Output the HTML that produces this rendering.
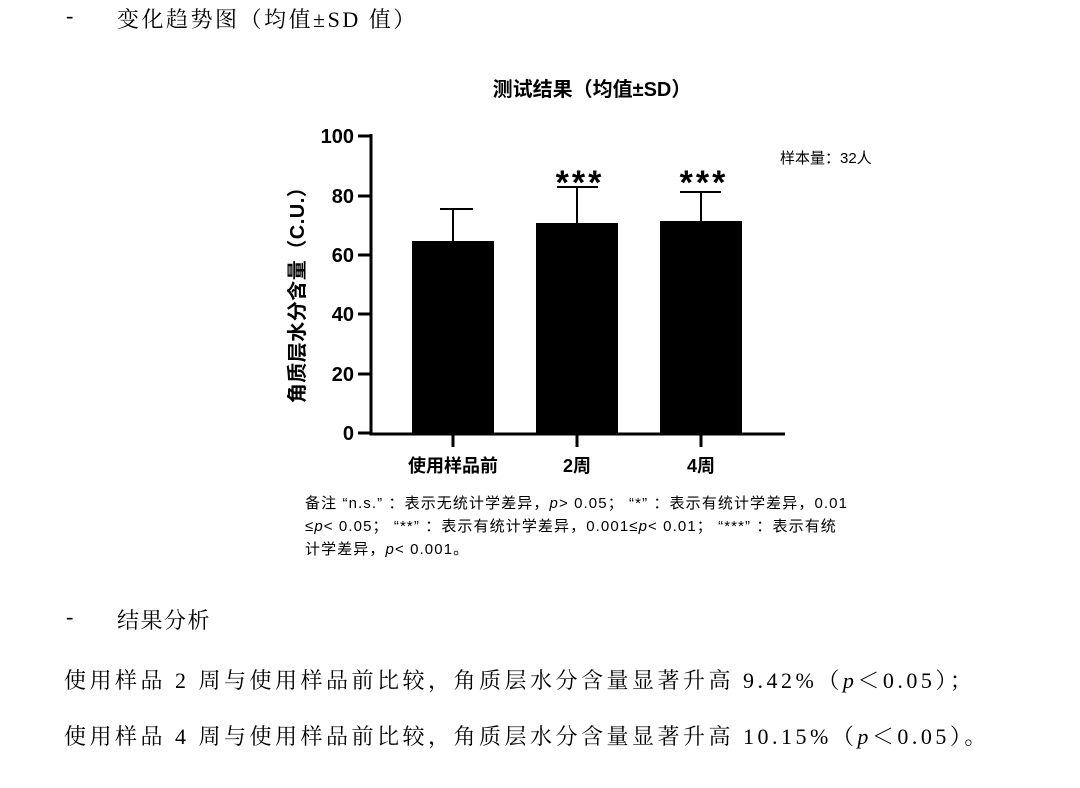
<!DOCTYPE html>
<html><head><meta charset="utf-8"><style>
body{margin:0;background:#fff;width:1080px;height:788px;overflow:hidden;position:relative;font-family:"Liberation Serif","Noto Serif CJK SC",serif;}
.t{position:absolute;white-space:nowrap;color:#000}
.s{font-family:"Liberation Sans","Noto Sans CJK SC",sans-serif}
.b{font-size:22px;letter-spacing:1.5px}
.c{font-family:"Noto Serif CJK SC",serif}
</style></head><body>
<div class="t b" style="left:66px;top:3px">-</div>
<div class="t b" style="left:117px;top:3px;letter-spacing:2.5px">变化趋势图<span class="c">（</span>均值±SD 值<span class="c">）</span></div>
<svg width="1080" height="788" style="position:absolute;left:0;top:0" font-family="Liberation Sans, Noto Sans CJK SC, sans-serif">
<text x="592" y="96" font-size="20" font-weight="bold" text-anchor="middle">测试结果（均值±SD）</text>
<text x="780" y="163" font-size="15">样本量：32人</text>
<g fill="#000">
<rect x="412" y="241" width="82" height="192"/>
<rect x="536" y="223" width="82" height="210"/>
<rect x="660" y="221" width="82" height="212"/>
</g>
<g stroke="#000" stroke-width="2" fill="none">
<path d="M453 241V209M440 209H473M577 223V187M557 187H598M701 221V192M680 192H721"/>
</g>
<g stroke="#000" stroke-width="3" fill="none">
<path d="M371 134V434H785"/>
<path d="M358 136H371M358 196H371M358 255H371M358 314H371M358 374H371M358 433H371"/>
<path d="M453 433V447M577 433V447M701 433V447"/>
</g>
<g font-size="20" font-weight="bold" text-anchor="end">
<text x="354" y="143">100</text><text x="354" y="203">80</text><text x="354" y="262">60</text><text x="354" y="321">40</text><text x="354" y="381">20</text><text x="354" y="440">0</text>
</g>
<g font-size="18" font-weight="bold" text-anchor="middle">
<text x="453" y="472">使用样品前</text><text x="577" y="472">2周</text><text x="701" y="472">4周</text>
</g>
<g font-size="34" font-weight="bold" text-anchor="middle" letter-spacing="3">
<text x="580" y="194">***</text><text x="704" y="194">***</text>
</g>
<text transform="translate(304,290) rotate(-90)" font-size="20" font-weight="bold" text-anchor="middle" letter-spacing="0.5">角质层水分含量（C.U.）</text>
</svg>
<div class="t s" style="left:305px;top:492px;font-size:15px;line-height:23px;letter-spacing:1.1px">备注 “n.s.” ：表示无统计学差异，<i>p</i>&gt; 0.05； “*” ：表示有统计学差异，0.01<br>≤<i>p</i>&lt; 0.05； “**” ：表示有统计学差异，0.001≤<i>p</i>&lt; 0.01； “***” ：表示有统<br>计学差异，<i>p</i>&lt; 0.001。</div>
<div class="t b" style="left:66px;top:604px">-</div>
<div class="t b" style="left:117px;top:604px">结果分析</div>
<div class="t b" style="left:64px;top:664px;letter-spacing:3.5px">使用样品 2 周与使用样品前比较<span class="c">，</span>角质层水分含量显著升高 9.42%<span class="c">（</span><i>p</i><span class="c">＜</span>0.05<span class="c">）；</span></div>
<div class="t b" style="left:64px;top:720px;letter-spacing:3.5px">使用样品 4 周与使用样品前比较<span class="c">，</span>角质层水分含量显著升高 10.15%<span class="c">（</span><i>p</i><span class="c">＜</span>0.05<span class="c">）。</span></div>
</body></html>
